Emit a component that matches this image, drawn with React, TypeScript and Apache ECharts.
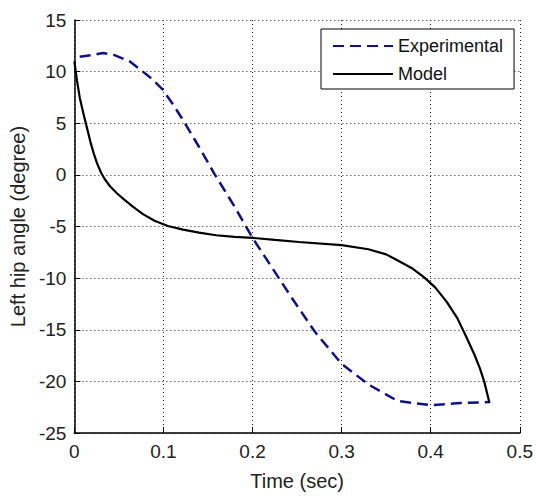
import React, { useEffect, useRef } from "react";
import * as echarts from "echarts";

const expTime = [0.006, 0.02, 0.032, 0.045, 0.062, 0.075, 0.087, 0.099, 0.111, 0.1235, 0.14, 0.157, 0.18, 0.2, 0.222, 0.244, 0.27, 0.3, 0.33, 0.363, 0.4, 0.433, 0.466];
const expAngle = [11.45, 11.6, 11.8, 11.6, 11.0, 10.13, 9.3, 8.28, 6.8, 5.09, 2.7, 0.13, -3.1, -6.1, -9.0, -11.9, -15.2, -18.3, -20.3, -21.9, -22.3, -22.1, -22.0];

const modelTime = [0, 0.003, 0.006, 0.01, 0.014, 0.018, 0.022, 0.026, 0.03, 0.034, 0.04, 0.048, 0.056, 0.066, 0.077, 0.09, 0.105, 0.122, 0.14, 0.159, 0.18, 0.2, 0.225, 0.252, 0.3, 0.33, 0.35, 0.363, 0.38, 0.393, 0.405, 0.418, 0.43, 0.44, 0.449, 0.455, 0.46, 0.466];
const modelAngle = [11.0, 9.1, 7.5, 6.0, 4.6, 3.2, 2.0, 1.0, 0.2, -0.4, -1.1, -1.8, -2.4, -3.1, -3.8, -4.45, -4.95, -5.3, -5.6, -5.85, -6.0, -6.1, -6.3, -6.5, -6.8, -7.2, -7.7, -8.3, -9.1, -9.95, -10.9, -12.3, -13.9, -15.7, -17.4, -18.7, -20.0, -22.1];

const seriesNames = ["Experimental", "Model"];
const xTitle = "Time (sec)";
const yTitle = "Left hip angle (degree)";

const FONT = "'Liberation Sans', Arial, sans-serif";

export default function App() {
  const ref = useRef<HTMLDivElement>(null);
  useEffect(() => {
    if (!ref.current) return;
    const chart = echarts.init(ref.current, null, { renderer: "svg" });
    const dotted = { color: "#222", width: 1, type: [1, 3] as any };
    chart.setOption({
      animation: false,
      backgroundColor: "#fff",
      grid: { left: 74, right: 14, top: 20, bottom: 59, containLabel: false },
      legend: {
        orient: "vertical",
        left: 321,
        top: 29,
        padding: [8, 11, 6, 11],
        itemGap: 10,
        itemWidth: 60,
        itemHeight: 14,
        backgroundColor: "#fff",
        borderColor: "#000",
        borderWidth: 1,
        borderRadius: 0,
        itemStyle: { opacity: 0 },
        textStyle: { fontFamily: FONT, fontSize: 18, color: "#111", lineHeight: 18 },
        data: seriesNames,
      },
      xAxis: {
        type: "value",
        min: 0,
        max: 0.5,
        interval: 0.1,
        name: xTitle,
        nameLocation: "middle",
        nameGap: 38,
        nameTextStyle: { fontFamily: FONT, fontSize: 20, color: "#222" },
        axisLine: { show: true, onZero: false, lineStyle: { color: "#000", width: 1.5 } },
        axisTick: { show: true, inside: true, length: 6, lineStyle: { color: "#000" } },
        axisLabel: { fontFamily: FONT, fontSize: 19, color: "#222", margin: 9 },
        splitLine: { show: true, lineStyle: dotted },
      },
      yAxis: {
        type: "value",
        min: -25,
        max: 15,
        interval: 5,
        name: yTitle,
        nameLocation: "middle",
        nameRotate: 90,
        nameGap: 46,
        nameTextStyle: { fontFamily: FONT, fontSize: 20, color: "#222" },
        axisLine: { show: true, onZero: false, lineStyle: { color: "#000", width: 1.5 } },
        axisTick: { show: true, inside: true, length: 6, lineStyle: { color: "#000" } },
        axisLabel: { fontFamily: FONT, fontSize: 19, color: "#222", margin: 8 },
        splitLine: { show: true, lineStyle: dotted },
      },
      series: [
        {
          name: seriesNames[0],
          type: "line",
          symbol: "none",
          showSymbol: false,
          data: expTime.map((t, i) => [t, expAngle[i]]),
          lineStyle: { color: "#10108f", width: 2.5, type: [11, 6] as any },
          itemStyle: { color: "#10108f" },
        },
        {
          name: seriesNames[1],
          type: "line",
          symbol: "none",
          showSymbol: false,
          data: modelTime.map((t, i) => [t, modelAngle[i]]),
          lineStyle: { color: "#000", width: 2.2, type: "solid" },
          itemStyle: { color: "#000" },
        },
      ],
    });
    return () => chart.dispose();
  }, []);
  return <div ref={ref} style={{ width: 536, height: 496, position: "absolute", left: 0, top: 0 }} />;
}
